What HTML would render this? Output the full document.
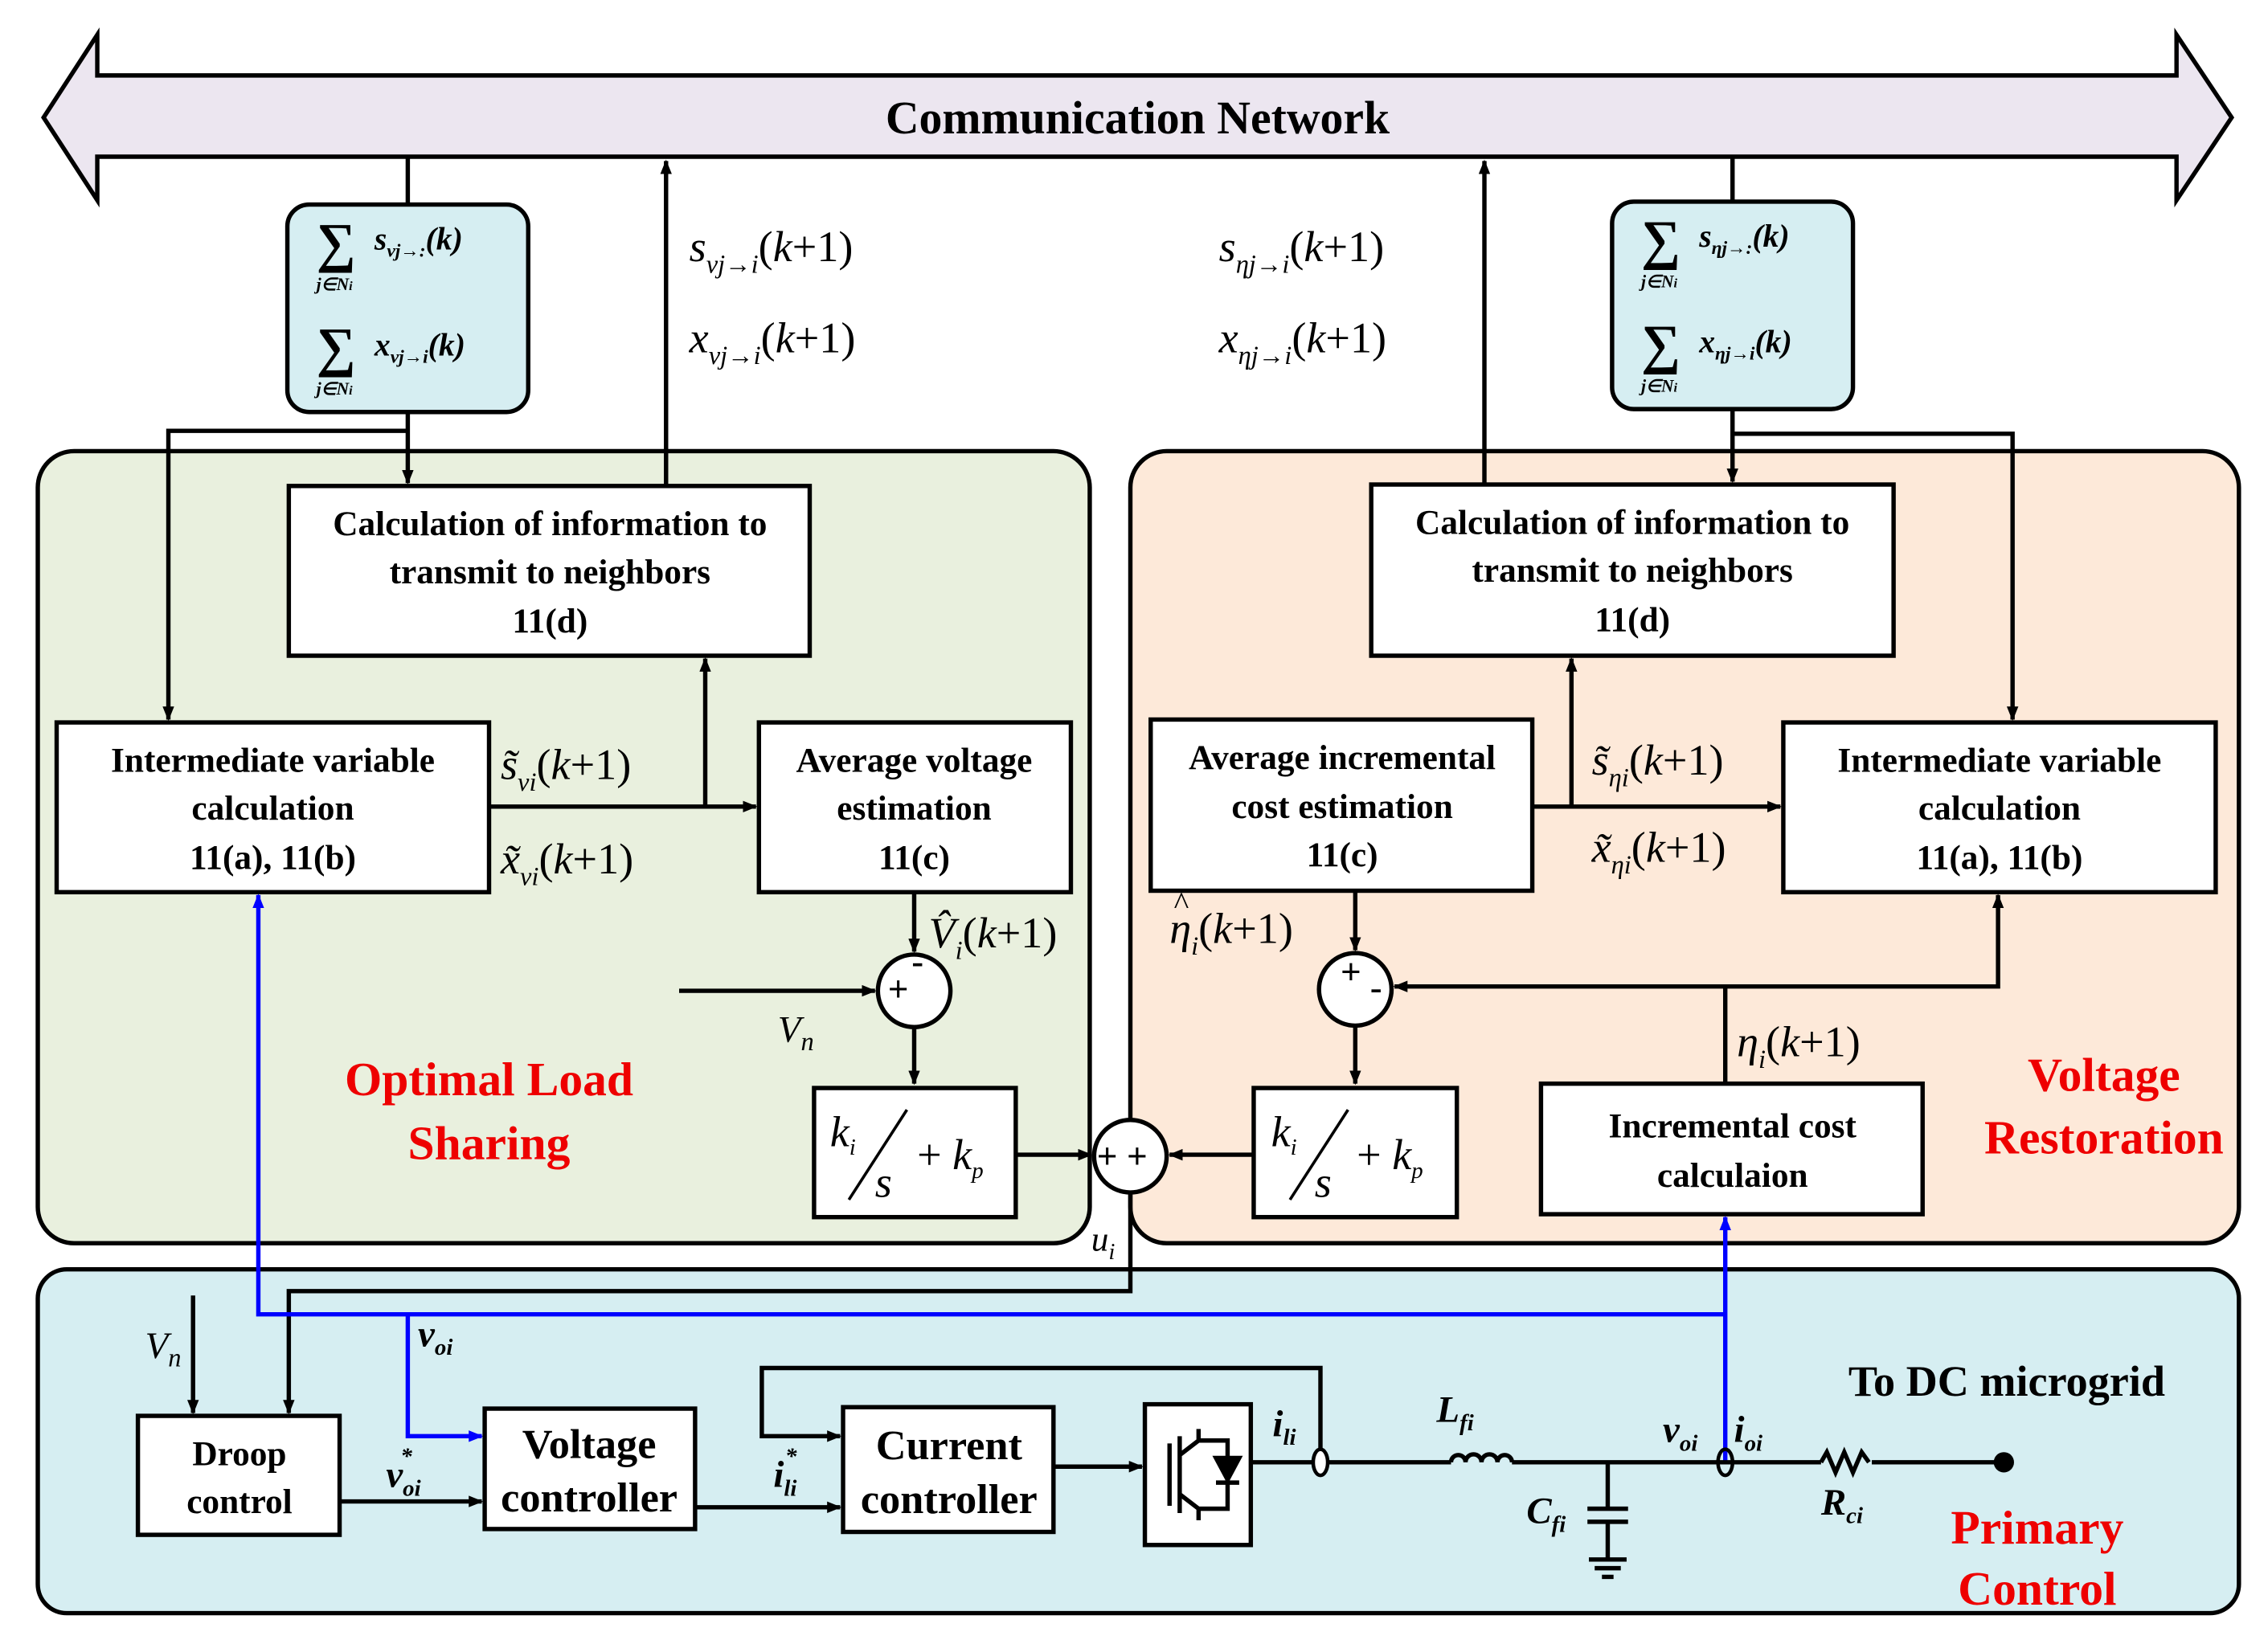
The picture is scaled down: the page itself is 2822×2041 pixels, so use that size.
<!DOCTYPE html>
<html><head><meta charset="utf-8"><style>
html,body{margin:0;padding:0;background:#fff}
svg{display:block}
.b{font-family:"Liberation Serif",serif;font-weight:bold;font-size:24px;text-anchor:middle}
.m{font-family:"Liberation Serif",serif;font-style:italic;font-size:30px}
.r{font-family:"Liberation Serif",serif;font-weight:bold;font-size:33px;fill:#e00;text-anchor:middle}
.bx{fill:#fff;stroke:#000;stroke-width:3}
.ln{fill:none;stroke:#000;stroke-width:3}
.bl{fill:none;stroke:#00f;stroke-width:3}
</style></head><body>
<svg width="2822" height="2041" viewBox="0 0 1563 1130.5" xmlns="http://www.w3.org/2000/svg">
<defs>
<marker id="a" markerWidth="10" markerHeight="8" refX="9" refY="4" orient="auto" markerUnits="userSpaceOnUse"><path d="M0,0L10,4L0,8z" fill="#000"/></marker>
<marker id="ab" markerWidth="10" markerHeight="8" refX="9" refY="4" orient="auto" markerUnits="userSpaceOnUse"><path d="M0,0L10,4L0,8z" fill="#00f"/></marker>
</defs>
<rect x="26" y="311" width="725" height="546" rx="25" fill="#e9f0de" stroke="#000" stroke-width="3"/>
<rect x="779" y="311" width="764" height="546" rx="25" fill="#fde9d9" stroke="#000" stroke-width="3"/>
<rect x="26" y="875" width="1517" height="237" rx="20" fill="#d6eef2" stroke="#000" stroke-width="3"/>
<polygon points="30,81 67,24 67,52 1500,52 1500,24 1538,81 1500,138 1500,108 67,108 67,138" fill="#ece6f0" stroke="#000" stroke-width="3"/>
<text x="784" y="92" class="b" style="font-size:32px">Communication Network</text>
<rect x="198" y="141" width="166" height="143" rx="15" fill="#d6eef2" stroke="#000" stroke-width="3"/>
<rect x="1111" y="139" width="166" height="143" rx="15" fill="#d6eef2" stroke="#000" stroke-width="3"/>
<g font-family="Liberation Serif,serif" font-weight="bold" font-style="italic">
<text x="218" y="180" font-size="38" font-style="normal">∑</text><text x="258" y="172" font-size="22">s<tspan font-size="13" dy="5">νj→:</tspan><tspan dy="-5">(k)</tspan></text><text x="218" y="200" font-size="12">j∈N<tspan font-size="9">i</tspan></text>
<text x="218" y="252" font-size="38" font-style="normal">∑</text><text x="258" y="245" font-size="22">x<tspan font-size="13" dy="5">νj→i</tspan><tspan dy="-5">(k)</tspan></text><text x="218" y="272" font-size="12">j∈N<tspan font-size="9">i</tspan></text>
<text x="1131" y="178" font-size="38" font-style="normal">∑</text><text x="1171" y="170" font-size="22">s<tspan font-size="13" dy="5">ηj→:</tspan><tspan dy="-5">(k)</tspan></text><text x="1131" y="198" font-size="12">j∈N<tspan font-size="9">i</tspan></text>
<text x="1131" y="250" font-size="38" font-style="normal">∑</text><text x="1171" y="243" font-size="22">x<tspan font-size="13" dy="5">ηj→i</tspan><tspan dy="-5">(k)</tspan></text><text x="1131" y="270" font-size="12">j∈N<tspan font-size="9">i</tspan></text>
</g>
<rect x="199" y="335" width="359" height="117" class="bx"/>
<text x="379" y="369" class="b">Calculation of information to</text><text x="379" y="402" class="b">transmit to neighbors</text><text x="379" y="436" class="b">11(d)</text>
<rect x="39" y="498" width="298" height="117" class="bx"/>
<text x="188" y="532" class="b">Intermediate variable</text><text x="188" y="565" class="b">calculation</text><text x="188" y="599" class="b">11(a), 11(b)</text>
<rect x="523" y="498" width="215" height="117" class="bx"/>
<text x="630" y="532" class="b">Average voltage</text><text x="630" y="565" class="b">estimation</text><text x="630" y="599" class="b">11(c)</text>
<rect x="945" y="334" width="360" height="118" class="bx"/>
<text x="1125" y="368" class="b">Calculation of information to</text><text x="1125" y="401" class="b">transmit to neighbors</text><text x="1125" y="435" class="b">11(d)</text>
<rect x="793" y="496" width="263" height="118" class="bx"/>
<text x="925" y="530" class="b">Average incremental</text><text x="925" y="564" class="b">cost estimation</text><text x="925" y="597" class="b">11(c)</text>
<rect x="1229" y="498" width="298" height="117" class="bx"/>
<text x="1378" y="532" class="b">Intermediate variable</text><text x="1378" y="565" class="b">calculation</text><text x="1378" y="599" class="b">11(a), 11(b)</text>
<rect x="1062" y="747" width="263" height="90" class="bx"/>
<text x="1194" y="784" class="b">Incremental cost</text><text x="1194" y="818" class="b">calculaion</text>
<rect x="561" y="750" width="139" height="89" class="bx"/>
<rect x="864" y="750" width="140" height="89" class="bx"/>
<g class="m" font-size="26">
<text x="572" y="790">k<tspan font-size="16" dy="6">i</tspan></text><line x1="585" y1="827" x2="625" y2="765" stroke="#000" stroke-width="2"/><text x="603" y="825">s</text><text x="632" y="806"><tspan font-style="normal">+ </tspan>k<tspan font-size="16" dy="6">p</tspan></text>
<text x="876" y="790">k<tspan font-size="16" dy="6">i</tspan></text><line x1="889" y1="827" x2="929" y2="765" stroke="#000" stroke-width="2"/><text x="906" y="825">s</text><text x="935" y="806"><tspan font-style="normal">+ </tspan>k<tspan font-size="16" dy="6">p</tspan></text>
</g>
<circle cx="630" cy="683" r="25" class="bx"/><text x="612" y="690" font-size="24" font-family="Liberation Sans">+</text><text x="628" y="672" font-size="26" font-family="Liberation Sans">-</text>
<circle cx="934" cy="682" r="25" class="bx"/><text x="924" y="678" font-size="24" font-family="Liberation Sans">+</text><text x="944" y="690" font-size="26" font-family="Liberation Sans">-</text>
<circle cx="779" cy="797" r="25" class="bx"/><text x="756" y="805" font-size="24" font-family="Liberation Sans">+ +</text>
<path d="M281,108V141M281,284V333" class="ln" marker-end="url(#a)"/>
<path d="M281,297H116V496" class="ln" marker-end="url(#a)"/>
<path d="M459,335V111" class="ln" marker-end="url(#a)"/>
<path d="M1194,108V139M1194,282V332" class="ln" marker-end="url(#a)"/>
<path d="M1194,299H1387V496" class="ln" marker-end="url(#a)"/>
<path d="M1023,334V111" class="ln" marker-end="url(#a)"/>
<path d="M337,556H521" class="ln" marker-end="url(#a)"/><path d="M486,556V454" class="ln" marker-end="url(#a)"/>
<path d="M1056,556H1227" class="ln" marker-end="url(#a)"/><path d="M1083,556V454" class="ln" marker-end="url(#a)"/>
<path d="M630,615V656" class="ln" marker-end="url(#a)"/>
<path d="M468,683H603" class="ln" marker-end="url(#a)"/>
<path d="M630,708V747" class="ln" marker-end="url(#a)"/>
<path d="M700,796H752" class="ln" marker-end="url(#a)"/>
<path d="M864,796H806" class="ln" marker-end="url(#a)"/>
<path d="M934,614V655" class="ln" marker-end="url(#a)"/>
<path d="M934,707V747" class="ln" marker-end="url(#a)"/>
<path d="M1189,747V680H961" class="ln" marker-end="url(#a)"/>
<path d="M1189,680H1377V617" class="ln" marker-end="url(#a)"/>
<path d="M779,822V890H199V974" class="ln" marker-end="url(#a)"/>
<g class="m">
<text x="475" y="180">s<tspan font-size="18" dy="8">νj→i</tspan><tspan dy="-8" font-style="normal">(</tspan>k<tspan font-style="normal">+1)</tspan></text>
<text x="475" y="243">x<tspan font-size="18" dy="8">νj→i</tspan><tspan dy="-8" font-style="normal">(</tspan>k<tspan font-style="normal">+1)</tspan></text>
<text x="840" y="180">s<tspan font-size="18" dy="8">ηj→i</tspan><tspan dy="-8" font-style="normal">(</tspan>k<tspan font-style="normal">+1)</tspan></text>
<text x="840" y="243">x<tspan font-size="18" dy="8">ηj→i</tspan><tspan dy="-8" font-style="normal">(</tspan>k<tspan font-style="normal">+1)</tspan></text>
<text x="345" y="537">s̃<tspan font-size="18" dy="8">νi</tspan><tspan dy="-8" font-style="normal">(</tspan>k<tspan font-style="normal">+1)</tspan></text>
<text x="345" y="602">x̃<tspan font-size="18" dy="8">νi</tspan><tspan dy="-8" font-style="normal">(</tspan>k<tspan font-style="normal">+1)</tspan></text>
<text x="1097" y="534">s̃<tspan font-size="18" dy="8">ηi</tspan><tspan dy="-8" font-style="normal">(</tspan>k<tspan font-style="normal">+1)</tspan></text>
<text x="1097" y="594">x̃<tspan font-size="18" dy="8">ηi</tspan><tspan dy="-8" font-style="normal">(</tspan>k<tspan font-style="normal">+1)</tspan></text>
<text x="640" y="653">V̂<tspan font-size="18" dy="8">i</tspan><tspan dy="-8" font-style="normal">(</tspan>k<tspan font-style="normal">+1)</tspan></text>
<text x="806" y="650">η<tspan font-size="18" dy="8">i</tspan><tspan dy="-8" font-style="normal">(</tspan>k<tspan font-style="normal">+1)</tspan></text>
<text x="809" y="630" font-size="22" font-style="normal">^</text>
<text x="1197" y="728">η<tspan font-size="18" dy="8">i</tspan><tspan dy="-8" font-style="normal">(</tspan>k<tspan font-style="normal">+1)</tspan></text>
<text x="536" y="718" font-size="26">V<tspan font-size="18" dy="6">n</tspan></text>
<text x="752" y="862" font-size="24">u<tspan font-size="16" dy="6">i</tspan></text>
<text x="100" y="936" font-size="26">V<tspan font-size="18" dy="6">n</tspan></text>
</g>
<text x="337" y="755" class="r">Optimal Load</text><text x="337" y="799" class="r">Sharing</text>
<text x="1450" y="752" class="r">Voltage</text><text x="1450" y="795" class="r">Restoration</text>
<path d="M1189,906H178V617" class="bl" marker-end="url(#ab)"/>
<path d="M1189,1008V839" class="bl" marker-end="url(#ab)"/>
<path d="M281,906V990H332" class="bl" marker-end="url(#ab)"/>
<rect x="95" y="976" width="139" height="82" class="bx"/><text x="165" y="1010" class="b">Droop</text><text x="165" y="1043" class="b">control</text>
<rect x="334" y="971" width="145" height="83" class="bx"/><text x="406" y="1005" class="b" style="font-size:29px">Voltage</text><text x="406" y="1042" class="b" style="font-size:29px">controller</text>
<rect x="581" y="970" width="145" height="86" class="bx"/><text x="654" y="1006" class="b" style="font-size:29px">Current</text><text x="654" y="1043" class="b" style="font-size:29px">controller</text>
<rect x="789" y="968" width="73" height="97" class="bx"/>
<g stroke="#000" stroke-width="3" fill="none"><path d="M806,995V1038M813,990V1043M813,1003L826,993V985M813,1030L826,1040V1048M826,993H846V1040H826"/><path d="M838,1005H854L846,1020z" fill="#000"/><path d="M838,1022H854"/></g>
<path d="M133,893V974" class="ln" marker-end="url(#a)"/>
<path d="M234,1035H332" class="ln" marker-end="url(#a)"/>
<path d="M479,1039H579" class="ln" marker-end="url(#a)"/>
<path d="M910,1003V943H525V990H579" class="ln" marker-end="url(#a)"/>
<path d="M726,1011H787" class="ln" marker-end="url(#a)"/>
<path d="M862,1008H1000M1042,1008H1255M1290,1008H1380" class="ln"/>
<path d="M1000,1008a5,5 0 0 1 10,0a5,5 0 0 1 11,0a5,5 0 0 1 11,0a5,5 0 0 1 10,0" class="ln"/>
<path d="M1255,1008l4,-7l6,14l6,-14l6,14l6,-14l5,7" class="ln"/>
<path d="M1108,1008V1040M1094,1040H1122M1094,1049H1122M1108,1049V1075M1095,1075H1121M1099,1081H1117M1104,1087H1112" class="ln"/>
<ellipse cx="910" cy="1008" rx="5" ry="9" fill="#fff" stroke="#000" stroke-width="2.5"/>
<ellipse cx="1189" cy="1008" rx="5" ry="9" fill="none" stroke="#000" stroke-width="2.5"/>
<circle cx="1381" cy="1008" r="7" fill="#000"/>
<g font-family="Liberation Serif,serif" font-weight="bold" font-style="italic" font-size="26">
<text x="288" y="928">v<tspan font-size="16" dy="6">oi</tspan></text>
<text x="266" y="1025">v<tspan font-size="16" dy="6">oi</tspan><tspan font-size="16" dx="-14" dy="-22">*</tspan></text>
<text x="533" y="1025">i<tspan font-size="16" dy="6">li</tspan><tspan font-size="16" dx="-8" dy="-22">*</tspan></text>
<text x="877" y="990">i<tspan font-size="16" dy="6">li</tspan></text>
<text x="990" y="980">L<tspan font-size="16" dy="6">fi</tspan></text>
<text x="1052" y="1050">C<tspan font-size="16" dy="6">fi</tspan></text>
<text x="1146" y="994">v<tspan font-size="16" dy="6">oi</tspan></text>
<text x="1195" y="994">i<tspan font-size="16" dy="6">oi</tspan></text>
<text x="1255" y="1044">R<tspan font-size="16" dy="6">ci</tspan></text>
</g>
<text x="1383" y="962" class="b" style="font-size:30px">To DC microgrid</text>
<text x="1404" y="1064" class="r">Primary</text><text x="1404" y="1106" class="r">Control</text>
</svg>
</body></html>
